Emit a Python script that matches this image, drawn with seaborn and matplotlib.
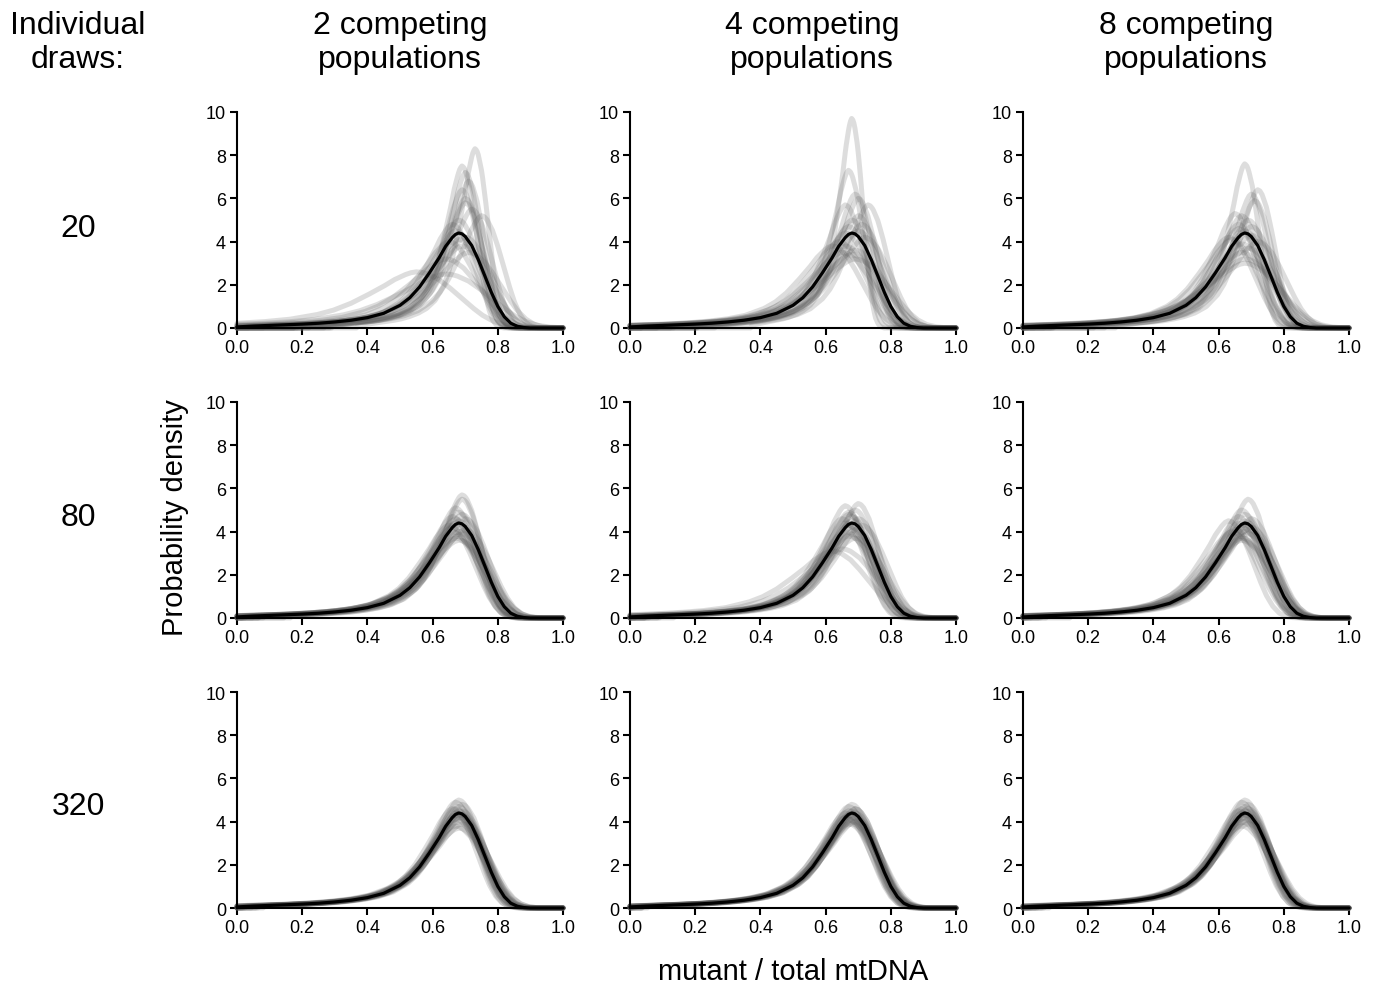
import matplotlib
import matplotlib.pyplot as plt
import numpy as np
import pandas as pd
import seaborn as sns

matplotlib.use("Agg")

# reference ("true") density
TRUE_X = [0.00, 0.05, 0.10, 0.15, 0.20, 0.25, 0.30, 0.35, 0.40, 0.45, 0.50,
          0.53, 0.56, 0.59, 0.62, 0.64, 0.66, 0.67, 0.68, 0.69, 0.70, 0.72,
          0.74, 0.76, 0.78, 0.80, 0.82, 0.84, 0.86, 0.88, 0.90, 0.95, 1.00]
TRUE_Y = [0.05, 0.09, 0.12, 0.15, 0.18, 0.22, 0.28, 0.36, 0.48, 0.68, 1.05,
          1.40, 1.90, 2.55, 3.25, 3.78, 4.18, 4.33, 4.40, 4.36, 4.24, 3.82,
          3.17, 2.42, 1.66, 1.00, 0.52, 0.22, 0.08, 0.02, 0.00, 0.00, 0.00]
TRUE_PEAK_X = 0.68
TRUE_PEAK_Y = 4.40

ROW_LABELS = ["20", "80", "320"]
COL_LABELS = ["2 competing\npopulations", "4 competing\npopulations",
              "8 competing\npopulations"]

# individual-draw curves: (peak location, peak height) per panel
PEAKS = {
    (0, 0): [(0.73, 8.3), (0.69, 7.5), (0.70, 7.2), (0.71, 6.8), (0.69, 6.4),
             (0.70, 6.0), (0.70, 5.8), (0.72, 5.5), (0.75, 5.2), (0.68, 5.0),
             (0.66, 4.8), (0.67, 4.5), (0.70, 4.2), (0.65, 4.0), (0.69, 3.8),
             (0.71, 3.5), (0.64, 3.2), (0.55, 2.6), (0.64, 2.5), (0.68, 4.1)],
    (0, 1): [(0.68, 9.7), (0.67, 7.3), (0.69, 6.2), (0.70, 6.0), (0.73, 5.7),
             (0.66, 5.7), (0.68, 5.0), (0.67, 4.7), (0.70, 4.5), (0.64, 4.0),
             (0.66, 3.8), (0.69, 3.6), (0.68, 3.4), (0.62, 3.8), (0.72, 4.2),
             (0.66, 4.4), (0.70, 5.2), (0.65, 3.5), (0.69, 3.2), (0.71, 4.8)],
    (0, 2): [(0.68, 7.6), (0.72, 6.4), (0.70, 6.2), (0.71, 5.9), (0.65, 5.3),
             (0.67, 5.2), (0.69, 5.0), (0.66, 4.8), (0.68, 4.5), (0.70, 4.3),
             (0.64, 4.1), (0.67, 3.9), (0.69, 3.7), (0.68, 3.2), (0.68, 3.0),
             (0.66, 4.6), (0.70, 4.7), (0.63, 4.2), (0.72, 4.0), (0.67, 3.5)],
    (1, 0): [(0.69, 5.7), (0.69, 5.5), (0.67, 5.1), (0.68, 4.9), (0.66, 4.7),
             (0.70, 4.6), (0.67, 4.4), (0.68, 4.2), (0.66, 4.0), (0.69, 3.9),
             (0.67, 3.8), (0.68, 3.6), (0.65, 4.3), (0.70, 4.1), (0.68, 4.5),
             (0.67, 3.7), (0.69, 4.8), (0.66, 4.2), (0.68, 4.0), (0.67, 4.6)],
    (1, 1): [(0.70, 5.3), (0.66, 5.2), (0.69, 5.0), (0.67, 4.9), (0.68, 4.7),
             (0.68, 4.5), (0.67, 4.3), (0.69, 4.1), (0.66, 4.0), (0.68, 3.9),
             (0.65, 3.2), (0.62, 3.1), (0.67, 3.8), (0.70, 4.6), (0.66, 4.4),
             (0.68, 4.2), (0.69, 3.7), (0.67, 4.8), (0.71, 4.3), (0.65, 4.6)],
    (1, 2): [(0.69, 5.5), (0.67, 5.0), (0.68, 4.8), (0.63, 4.5), (0.66, 4.4),
             (0.70, 4.6), (0.67, 4.2), (0.68, 4.0), (0.69, 3.9), (0.66, 3.8),
             (0.67, 3.6), (0.68, 4.3), (0.65, 4.1), (0.70, 4.2), (0.66, 4.7),
             (0.69, 4.4), (0.67, 3.7), (0.68, 4.5), (0.64, 4.0), (0.69, 4.1)],
    (2, 0): [(0.68, 5.0), (0.67, 4.9), (0.69, 4.8), (0.68, 4.7), (0.67, 4.6),
             (0.68, 4.5), (0.69, 4.5), (0.67, 4.4), (0.68, 4.4), (0.69, 4.3),
             (0.67, 4.3), (0.68, 4.2), (0.69, 4.2), (0.67, 4.1), (0.68, 4.0),
             (0.69, 3.9), (0.67, 3.8), (0.68, 3.7), (0.66, 4.6), (0.68, 4.3)],
    (2, 1): [(0.68, 4.8), (0.67, 4.7), (0.69, 4.6), (0.68, 4.5), (0.67, 4.5),
             (0.68, 4.4), (0.69, 4.4), (0.67, 4.3), (0.68, 4.3), (0.69, 4.2),
             (0.66, 4.2), (0.68, 4.1), (0.67, 4.1), (0.69, 4.0), (0.68, 4.0),
             (0.67, 3.9), (0.68, 3.9), (0.66, 4.4), (0.69, 4.6), (0.68, 4.2)],
    (2, 2): [(0.68, 5.0), (0.67, 4.9), (0.69, 4.8), (0.68, 4.7), (0.67, 4.6),
             (0.68, 4.5), (0.69, 4.5), (0.67, 4.4), (0.68, 4.4), (0.69, 4.3),
             (0.67, 4.2), (0.68, 4.2), (0.69, 4.1), (0.67, 4.0), (0.68, 4.0),
             (0.69, 3.9), (0.67, 3.8), (0.66, 4.5), (0.68, 4.3), (0.69, 4.6)],
}


def draw_curve(peak_x, peak_y, grid):
    # reference shape, shifted to the draw's peak and rescaled (area kept)
    s = peak_y / TRUE_PEAK_Y
    u = TRUE_PEAK_X + (grid - peak_x) * s
    return s * np.interp(u, TRUE_X, TRUE_Y, left=0.0, right=0.0)


def build_frame(panel):
    grid = np.linspace(0, 1, 301)
    frames = []
    for i, (px, py) in enumerate(PEAKS[panel]):
        frames.append(pd.DataFrame({"x": grid, "density": draw_curve(px, py, grid), "draw": i}))
    return pd.concat(frames, ignore_index=True)


def main():
    sns.set_style("ticks")
    plt.rcParams["font.family"] = ["Liberation Sans", "DejaVu Sans"]
    plt.rcParams.update({
        "text.color": "black",
        "axes.labelcolor": "black",
        "axes.edgecolor": "black",
        "xtick.color": "black",
        "ytick.color": "black",
    })
    W, H = 1378, 987
    fig = plt.figure(figsize=(W / 100, H / 100), dpi=100)

    col_left = [237, 630, 1023]
    row_bottom = [329, 619, 909]
    ax_w, ax_h = 326, 216

    for r in range(3):
        for c in range(3):
            ax = fig.add_axes([col_left[c] / W, 1 - row_bottom[r] / H, ax_w / W, ax_h / H])
            df = build_frame((r, c))
            sns.lineplot(data=df, x="x", y="density", units="draw", estimator=None,
                         color="0.35", alpha=0.2, lw=3.6, ax=ax, legend=False)
            sns.lineplot(x=TRUE_X, y=TRUE_Y, color="black", lw=2.3, ax=ax)
            ax.set_xlim(0, 1)
            ax.set_ylim(0, 10)
            ax.set_xticks([0, 0.2, 0.4, 0.6, 0.8, 1.0])
            ax.set_xticklabels(["0.0", "0.2", "0.4", "0.6", "0.8", "1.0"])
            ax.set_yticks([0, 2, 4, 6, 8, 10])
            ax.set_xlabel("")
            ax.set_ylabel("")
            for line in ax.get_lines():
                line.set_clip_on(False)
            sns.despine(ax=ax)
            for sp in ("left", "bottom"):
                ax.spines[sp].set_linewidth(1.5)
            ax.tick_params(direction="out", length=5, width=1.5, labelsize=13, pad=3)

    def fx(px):
        return px / W

    def fy(py):
        return 1 - py / H

    fig.text(fx(78), fy(43), "Individual\ndraws:", ha="center", va="center",
             fontsize=23, linespacing=1.18)
    for x, label in zip([400, 812, 1186], COL_LABELS):
        fig.text(fx(x), fy(43), label, ha="center", va="center", fontsize=23, linespacing=1.18)
    for y, label in zip([229, 518, 807], ROW_LABELS):
        fig.text(fx(78), fy(y), label, ha="center", va="center", fontsize=23)
    fig.text(fx(175), fy(518), "Probability density", ha="center", va="center",
             rotation=90, fontsize=21)
    fig.text(fx(793), fy(972), "mutant / total mtDNA", ha="center", va="center", fontsize=21)

    plt.savefig("out.png", dpi=100)
    plt.close()


if __name__ == "__main__":
    main()
